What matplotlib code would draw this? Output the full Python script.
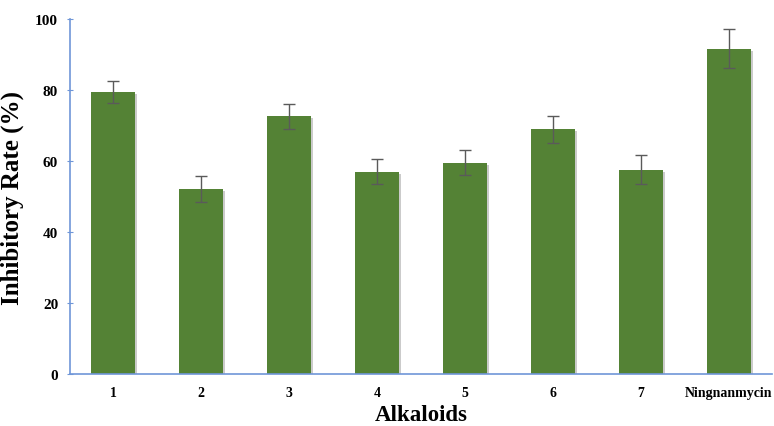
import matplotlib.pyplot as plt
import matplotlib.patheffects as pe

# data
labels = ['1', '2', '3', '4', '5', '6', '7', 'Ningnanmycin']
rates = [79.5, 52.1, 72.6, 57.0, 59.5, 69.0, 57.6, 91.7]
errors = [3.0, 3.6, 3.5, 3.5, 3.5, 3.8, 4.0, 5.6]

plt.rcParams['font.family'] = ['Liberation Serif', 'DejaVu Serif']
plt.rcParams['font.weight'] = 'bold'

fig = plt.figure(figsize=(7.74, 4.27), dpi=100)
ax = fig.add_axes([0.0904, 0.1218, 0.907, 0.831])

x = range(len(labels))
bars = ax.bar(x, rates, width=0.5, color='#548235', zorder=2,
              yerr=errors, capsize=4,
              error_kw=dict(ecolor='#5a5a5a', elinewidth=1.0, capthick=1.0))
for b in bars:
    b.set_path_effects([pe.SimplePatchShadow(offset=(1.5, -1.5), shadow_rgbFace='#999999', alpha=0.5),
                        pe.Normal()])

ax.set_xlim(-0.49, 7.49)
ax.set_ylim(0, 100)
ax.set_yticks(range(0, 101, 20))
ax.set_xticks(list(x))
ax.set_xticklabels(labels)

for s in ['top', 'right']:
    ax.spines[s].set_visible(False)
for s in ['left', 'bottom']:
    ax.spines[s].set_color('#6f96d8')
    ax.spines[s].set_linewidth(1.2)

ax.tick_params(axis='y', direction='inout', length=5, color='#6f96d8', labelsize=11, pad=6)
ax.tick_params(axis='x', length=0, labelsize=10, pad=9)
for t in ax.get_xticklabels() + ax.get_yticklabels():
    t.set_fontweight('bold')

ax.set_ylabel('Inhibitory Rate (%)', fontsize=18, fontweight='bold', labelpad=8)
ax.set_xlabel('Alkaloids', fontsize=16.5, fontweight='bold', labelpad=3)

fig.savefig('out.png', dpi=100)
